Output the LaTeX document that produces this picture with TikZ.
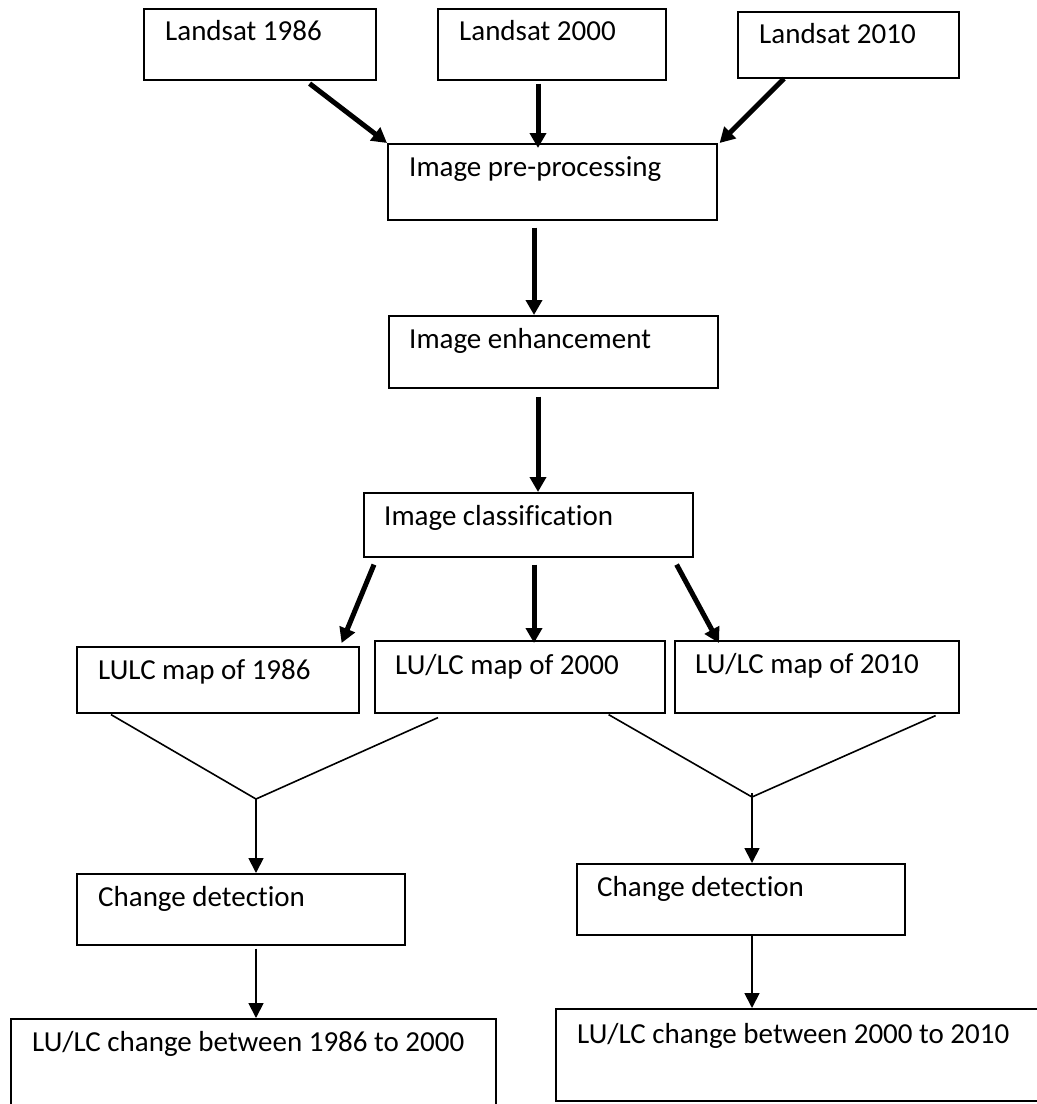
\documentclass[tikz,border=0pt]{standalone}
\usepackage{fontspec}
\setmainfont{Carlito}[Ligatures=NoCommon]
\usepackage{tikz}
\usetikzlibrary{arrows.meta, positioning, calc}
\tikzstyle{stepbox} = [rectangle, draw=black, line width=1.6pt, anchor=north west, inner sep=0pt]
\tikzstyle{boxtext} = [anchor=west, inner sep=0pt, text height=0.75em, text depth=0.1em, font=\fontsize{29}{34}\selectfont]
\tikzstyle{bigarrow} = [line width=5pt, -{Triangle[length=15pt,width=16pt]}]
\tikzstyle{arrow} = [line width=1.8pt, -{Triangle[length=15pt,width=15pt]}]
\tikzstyle{mergeline} = [line width=1.6pt]

\begin{document}
\begin{tikzpicture}[x=1pt, y=-1pt]
    \useasboundingbox (0,0) rectangle (1037,1104);

    % input scenes
    \node (l86) [stepbox, minimum width=232pt, minimum height=71pt] at (143,8) {};
    \node (l00) [stepbox, minimum width=228pt, minimum height=71pt] at (437,8) {};
    \node (l10) [stepbox, minimum width=221pt, minimum height=66pt] at (737,11) {};
    \node (l86txt) [boxtext] at ($(l86.north west)+(22,29)$) {Landsat 1986};
    \node (l00txt) [boxtext] at ($(l00.north west)+(22,29)$) {Landsat 2000};
    \node (l10txt) [boxtext] at ($(l10.north west)+(22,29)$) {Landsat 2010};

    % processing chain
    \node (pre) [stepbox, minimum width=329pt, minimum height=76pt] at (387,143) {};
    \node (enh) [stepbox, minimum width=329pt, minimum height=72pt] at (388,315) {};
    \node (cls) [stepbox, minimum width=329pt, minimum height=64pt] at (363,492) {};
    \node (pretxt) [boxtext] at ($(pre.north west)+(22,30)$) {Image pre-processing};
    \node (enhtxt) [boxtext] at ($(enh.north west)+(21,30)$) {Image enhancement};
    \node (clstxt) [boxtext] at ($(cls.north west)+(21,30)$) {Image classification};

    % maps
    \node (m86) [stepbox, minimum width=282pt, minimum height=66pt] at (76,646) {};
    \node (m00) [stepbox, minimum width=290pt, minimum height=72pt] at (374,640) {};
    \node (m10) [stepbox, minimum width=284pt, minimum height=72pt] at (674,640) {};
    \node (m86txt) [boxtext] at ($(m86.north west)+(22,30)$) {LULC map of 1986};
    \node (m00txt) [boxtext] at ($(m00.north west)+(21,31)$) {LU/LC map of 2000};
    \node (m10txt) [boxtext] at ($(m10.north west)+(21,30)$) {LU/LC map of 2010};

    % change detection
    \node (cd1) [stepbox, minimum width=328pt, minimum height=71pt] at (76,873) {};
    \node (cd2) [stepbox, minimum width=328pt, minimum height=71pt] at (576,863) {};
    \node (cd1txt) [boxtext] at ($(cd1.north west)+(22,30)$) {Change detection};
    \node (cd2txt) [boxtext] at ($(cd2.north west)+(21,30)$) {Change detection};

    % results
    \node (res1) [stepbox, minimum width=485pt, minimum height=100pt] at (10,1018) {};
    \node (res2) [stepbox, minimum width=490pt, minimum height=92pt] at (555,1008) {};
    \node (res1txt) [boxtext] at ($(res1.north west)+(22,30)$) {LU/LC change between 1986 to 2000};
    \node (res2txt) [boxtext] at ($(res2.north west)+(22,32)$) {LU/LC change between 2000 to 2010};

    \coordinate (v1) at (256,799);
    \coordinate (v2) at (752,797);

    \draw [bigarrow] ($(l86.south east)+(-67,3)$) -- (pre.north west);
    \draw [bigarrow] ($(l00.south west)+(101,3)$) -- ($(pre.north west)+(151,5)$);
    \draw [bigarrow] ($(l10.south west)+(47,0)$) -- ($(pre.north east)+(2,0)$);
    \draw [bigarrow] ($(pre.south west)+(147,7)$) -- ($(enh.north west)+(146,0)$);
    \draw [bigarrow] ($(enh.south west)+(150,8)$) -- ($(cls.north west)+(175,0)$);
    \draw [bigarrow] ($(cls.south west)+(11,7)$) -- ($(m86.north east)+(-18,-3)$);
    \draw [bigarrow] ($(cls.south west)+(171,7)$) -- ($(m00.north west)+(160,3)$);
    \draw [bigarrow] ($(cls.south east)+(-17,7)$) -- ($(m10.north west)+(45,3)$);

    \draw [mergeline] ($(m86.south west)+(35,1)$) -- (v1) -- ($(m00.south west)+(64,4)$);
    \draw [mergeline] ($(m00.south east)+(-57,1)$) -- (v2) -- ($(m10.south east)+(-24,2)$);

    \draw [arrow] (v1) -- (v1 |- cd1.north);
    \draw [arrow] ($(v2)+(0,-4)$) -- (v2 |- cd2.north);
    \draw [arrow] ($(cd1.south -| v1)+(0,3)$) -- (v1 |- res1.north);
    \draw [arrow] (cd2.south -| v2) -- (v2 |- res2.north);
\end{tikzpicture}
\end{document}
